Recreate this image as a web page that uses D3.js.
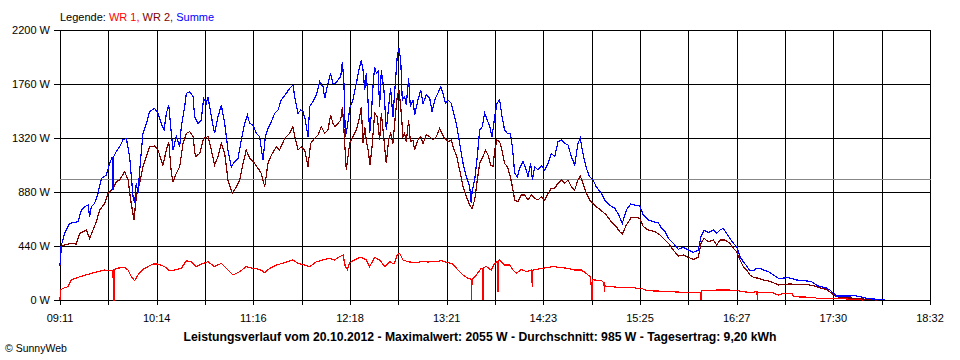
<!DOCTYPE html>
<html><head><meta charset="utf-8">
<script src="https://cdn.jsdelivr.net/npm/d3@7/dist/d3.min.js"></script>
<style>body{margin:0;background:#fff}svg{display:block}text{font-family:"Liberation Sans",Arial,sans-serif}</style>
</head><body>
<script>
// time in minutes of day (09:11 = 551), power in W
const xTickLabels = ["09:11","10:14","11:16","12:18","13:21","14:23","15:25","16:27","17:30","18:32"];
const yTicks = [0,440,880,1320,1760,2200];
const average = 985;
const legendItems = ["WR 1", "WR 2", "Summe"];
const titleText = "Leistungsverlauf vom 20.10.2012 - Maximalwert: 2055 W - Durchschnitt: 985 W - Tagesertrag: 9,20 kWh";

const summe = [[551.0,285],[551.6,435],[552.9,489],[554.0,543],[557.2,625],[562.6,638],[564.8,733],[566.9,760],[569.1,774],[570.1,679],[571.2,760],[573.3,788],[575.5,869],[577.7,991],[580.9,1018],[583.0,1113],[584.8,1168],[585.2,896],[585.6,1168],[587.3,1209],[589.5,1249],[591.6,1304],[593.8,1317],[595.9,1168],[598.1,842],[599.1,788],[600.2,951],[601.3,869],[602.4,1059],[604.5,1358],[606.7,1439],[608.8,1535],[612.0,1562],[614.2,1521],[616.3,1439],[618.1,1385],[619.6,1521],[621.1,1589],[622.8,1358],[623.9,1222],[626.0,1331],[628.2,1249],[629.2,1412],[631.4,1575],[632.5,1684],[634.6,1697],[636.8,1657],[637.8,1494],[640.0,1439],[642.1,1467],[643.6,1643],[645.4,1602],[646.4,1657],[648.6,1494],[650.7,1358],[652.9,1494],[655.0,1589],[657.2,1439],[659.3,1222],[661.5,1086],[663.6,1127],[665.8,1154],[667.9,1304],[670.1,1439],[671.8,1507],[673.3,1439],[675.4,1426],[677.6,1358],[679.7,1331],[681.9,1141],[683.4,1331],[685.1,1399],[687.3,1453],[689.4,1521],[691.6,1548],[693.7,1630],[696.9,1684],[699.1,1725],[701.2,1752],[702.7,1630],[704.5,1521],[706.2,1548],[707.7,1535],[709.2,1467],[710.9,1331],[712.0,1575],[714.1,1616],[716.3,1670],[718.4,1779],[720.6,1738],[721.7,1643],[723.8,1766],[725.5,1847],[727.0,1766],[728.5,1766],[730.3,1793],[732.0,1820],[733.1,1942],[734.1,1766],[735.0,1331],[736.3,1412],[737.8,1560],[739.9,1630],[742.1,1766],[744.2,1901],[745.3,1955],[746.4,1874],[747.5,1711],[748.5,1847],[749.6,1630],[750.7,1358],[751.8,1521],[752.8,1738],[753.9,1901],[755.0,1847],[756.1,1860],[757.1,1575],[758.2,1874],[759.9,1711],[761.4,1385],[762.9,1575],[764.2,1725],[765.7,1494],[767.2,1766],[768.5,1996],[769.6,2051],[770.7,1955],[771.7,1630],[773.2,1657],[774.3,1589],[775.8,1806],[776.9,1575],[778.6,1630],[779.7,1507],[781.8,1630],[783.6,1711],[785.1,1602],[787.2,1670],[789.4,1643],[790.9,1535],[793.0,1643],[794.7,1684],[796.5,1738],[798.0,1684],[799.5,1602],[801.2,1630],[803.3,1602],[805.1,1507],[806.6,1439],[808.7,1276],[810.9,1113],[813.0,1005],[815.2,923],[816.2,788],[816.7,883],[818.4,978],[820.1,1168],[821.6,1385],[823.3,1412],[824.8,1521],[826.5,1467],[828.1,1412],[829.6,1331],[831.3,1494],[832.8,1602],[834.5,1630],[836.0,1494],[837.7,1385],[839.5,1358],[841.4,1358],[842.7,1249],[844.2,1032],[845.9,1005],[847.4,1073],[849.6,1127],[851.3,1073],[852.8,1005],[854.5,1113],[855.6,978],[857.1,1086],[859.2,1059],[861.4,1092],[863.5,1059],[865.7,1113],[867.8,1195],[870.0,1168],[872.1,1290],[874.3,1304],[876.4,1276],[878.6,1263],[880.7,1168],[882.9,1100],[885.0,1276],[886.5,1317],[888.2,1195],[890.4,1073],[892.5,1005],[894.7,978],[896.8,923],[900.1,869],[902.2,815],[905.4,774],[908.7,747],[910.8,706],[913.6,625],[916.2,733],[919.0,782],[921.6,774],[924.8,766],[927.1,693],[930.4,652],[933.6,638],[936.8,630],[939.0,584],[941.1,557],[943.3,502],[946.5,462],[949.7,413],[952.9,429],[956.2,407],[959.4,388],[962.6,407],[964.3,516],[966.3,570],[969.1,548],[972.3,570],[974.4,543],[976.6,570],[978.7,584],[980.9,543],[983.0,502],[985.2,462],[987.3,435],[989.5,353],[991.6,312],[993.8,277],[995.9,239],[998.1,239],[1000.2,258],[1002.4,258],[1004.5,244],[1007.8,231],[1011.0,204],[1014.2,177],[1016.4,177],[1019.6,182],[1022.8,177],[1026.0,163],[1029.2,158],[1032.5,155],[1035.7,149],[1038.9,122],[1041.1,109],[1044.3,103],[1047.5,81],[1049.7,54],[1051.8,33],[1060.4,33],[1063.6,35],[1066.9,27],[1071.2,14],[1075.5,8],[1079.8,5],[1083.0,3]];

const wr2 = [[551.0,277],[551.9,440],[554.0,448],[558.3,462],[561.5,456],[563.7,543],[565.8,557],[568.0,570],[570.1,502],[572.3,570],[574.4,638],[576.6,733],[579.8,788],[581.9,869],[585.2,910],[587.3,964],[589.5,978],[592.7,1046],[594.9,978],[596.6,815],[598.7,652],[600.2,842],[602.4,951],[604.5,1086],[606.7,1168],[608.8,1249],[612.0,1255],[614.2,1222],[616.3,1141],[617.4,1100],[619.6,1222],[621.1,1290],[622.8,1032],[623.9,964],[626.0,1032],[628.2,1086],[630.3,1276],[632.5,1358],[634.6,1372],[636.8,1331],[638.3,1168],[641.1,1195],[643.6,1317],[646.4,1331],[648.6,1222],[650.7,1100],[652.9,1168],[655.0,1276],[657.2,1195],[659.3,978],[662.1,869],[664.7,923],[666.9,978],[669.0,1113],[671.1,1222],[673.3,1154],[676.5,1113],[678.7,1073],[680.8,1032],[683.0,923],[685.1,1113],[687.3,1181],[690.5,1249],[692.6,1222],[695.9,1317],[699.1,1358],[701.2,1412],[702.7,1317],[704.5,1222],[706.6,1249],[708.8,1222],[710.9,1086],[712.6,1276],[715.2,1317],[717.4,1344],[719.5,1412],[721.7,1358],[723.8,1385],[725.5,1507],[727.0,1439],[728.5,1412],[730.3,1439],[732.0,1467],[733.1,1575],[734.1,1385],[735.6,1059],[737.8,1276],[739.9,1331],[742.1,1385],[744.2,1494],[745.3,1575],[746.4,1276],[747.5,1412],[748.5,1304],[750.0,1195],[750.9,1100],[752.2,1249],[753.9,1521],[755.6,1494],[757.1,1304],[758.2,1521],[759.9,1304],[761.4,1113],[762.9,1304],[764.2,1358],[765.7,1276],[767.2,1494],[768.5,1657],[769.6,1711],[770.7,1575],[772.2,1331],[773.2,1358],[774.3,1290],[775.8,1467],[776.9,1290],[778.6,1304],[779.7,1222],[781.8,1304],[783.6,1331],[785.1,1276],[787.2,1344],[789.4,1331],[791.5,1304],[793.7,1331],[795.8,1399],[797.3,1358],[799.0,1317],[801.2,1290],[803.3,1304],[805.1,1222],[806.6,1181],[808.7,1059],[810.9,923],[813.0,842],[815.2,774],[816.7,747],[818.4,815],[820.1,978],[821.6,1113],[823.8,1168],[825.3,1222],[827.0,1181],[828.7,1100],[830.2,1086],[831.3,1222],[832.8,1304],[834.5,1290],[836.0,1222],[837.7,1113],[839.5,1086],[841.4,1005],[842.7,923],[844.2,815],[846.3,801],[848.5,856],[850.6,856],[852.8,815],[854.9,856],[857.1,829],[859.2,815],[861.4,842],[863.5,815],[865.7,869],[867.8,910],[870.0,910],[872.1,951],[874.3,978],[876.4,951],[878.6,978],[880.7,923],[882.9,896],[885.0,978],[886.5,1010],[888.2,951],[890.4,869],[892.5,815],[894.7,788],[896.8,760],[900.1,728],[903.3,693],[906.5,638],[909.7,598],[911.9,557],[913.6,538],[916.2,611],[919.4,674],[922.6,674],[924.8,666],[927.1,598],[930.4,570],[934.7,557],[937.9,530],[940.0,502],[943.3,462],[946.5,407],[949.7,358],[952.9,367],[956.2,348],[959.4,331],[962.6,348],[964.3,462],[966.3,502],[969.1,475],[972.3,489],[974.4,448],[976.6,489],[979.8,489],[983.0,462],[985.2,421],[987.3,394],[989.5,326],[991.6,272],[993.8,244],[995.9,204],[998.1,185],[1001.3,177],[1004.5,163],[1007.8,155],[1011.0,141],[1014.2,122],[1017.4,128],[1021.7,130],[1026.0,128],[1030.3,128],[1034.6,122],[1038.9,109],[1042.1,95],[1045.4,87],[1048.6,54],[1051.8,27],[1056.1,19],[1060.4,16],[1064.7,14],[1069.0,8],[1073.3,3],[1077.6,0]];

const wr1 = [[551.0,0],[551.3,81],[552.9,95],[556.2,109],[558.3,163],[562.6,185],[566.9,201],[571.2,217],[575.5,231],[579.8,244],[581.9,239],[585.2,244],[585.4,0],[586.2,0],[586.4,250],[587.3,258],[592.7,266],[594.9,244],[597.0,190],[599.1,158],[601.3,204],[604.5,250],[607.7,272],[611.0,293],[614.2,293],[618.5,272],[621.7,239],[624.9,244],[629.2,258],[632.5,320],[635.7,312],[638.9,272],[642.1,293],[646.4,312],[650.7,272],[655.0,299],[659.3,244],[662.6,204],[666.9,231],[671.1,272],[675.4,258],[679.7,250],[683.0,223],[686.2,258],[690.5,285],[695.9,304],[701.2,326],[704.5,299],[708.8,285],[712.0,272],[716.3,312],[720.6,326],[724.9,340],[728.1,326],[731.3,353],[733.5,367],[735.0,272],[736.3,250],[737.8,304],[738.9,312],[741.0,326],[744.2,348],[746.4,340],[748.5,326],[750.7,272],[753.9,348],[757.1,326],[760.4,272],[763.6,312],[766.4,293],[768.5,367],[770.0,380],[772.2,326],[775.4,312],[779.7,304],[784.0,312],[788.3,310],[792.6,312],[796.9,320],[801.2,304],[804.4,293],[807.6,244],[810.9,204],[814.1,177],[816.2,168],[816.4,0],[816.7,170],[819.5,204],[822.7,258],[823.6,260],[823.8,0],[824.0,265],[825.9,272],[829.1,244],[831.3,299],[833.0,312],[833.4,68],[833.8,320],[834.5,326],[837.7,285],[841.0,285],[843.1,244],[845.3,217],[848.5,250],[851.7,231],[854.9,244],[855.6,110],[855.9,244],[858.1,250],[862.5,258],[865.7,266],[868.9,272],[873.2,266],[878.6,258],[882.9,244],[887.2,244],[890.4,217],[893.2,185],[894.0,0],[894.3,170],[895.8,163],[900.1,158],[901.8,140],[902.0,68],[902.4,114],[906.5,109],[913.0,100],[919.4,103],[924.8,92],[926.0,95],[929.3,76],[935.7,73],[942.2,71],[948.6,65],[955.1,62],[964.0,62],[964.3,0],[964.6,76],[966.3,76],[974.4,81],[983.0,81],[989.5,73],[995.9,60],[1000.4,68],[1000.7,0],[1001.0,62],[1004.5,62],[1009.9,62],[1014.2,41],[1017.4,54],[1023.2,54],[1023.9,27],[1030.3,24],[1037.8,22],[1038.9,14],[1047.5,14],[1051.8,11],[1060.4,8],[1064.7,3],[1069.0,0]];

const seriesColors = ["#ff0000", "#800000", "#0000ff"];

const svg = d3.select("body").append("svg").attr("width", 960).attr("height", 360);
const x = d3.scaleLinear().domain([551, 1112]).range([60, 930]);
const y = d3.scaleLinear().domain([0, 2200]).range([300, 30]);

const px = v => Math.round(v) + 0.5;

// vertical grid (18 intervals, labels every second line)
const nGrid = (xTickLabels.length - 1) * 2;
const gridTimes = d3.range(nGrid + 1).map(i => 551 + i * (1112 - 551) / nGrid);
svg.append("g").selectAll("line").data(gridTimes).join("line")
  .attr("x1", d => px(x(d))).attr("x2", d => px(x(d)))
  .attr("y1", y(2200)).attr("y2", y(0) + 5)
  .attr("stroke", "#000").attr("stroke-width", 1).attr("shape-rendering", "crispEdges");

// horizontal grid
svg.append("g").selectAll("line").data(yTicks).join("line")
  .attr("x1", x(551) - 6).attr("x2", px(x(1112)) + 0.5)
  .attr("y1", d => px(y(d))).attr("y2", d => px(y(d)))
  .attr("stroke", "#000").attr("stroke-width", 1).attr("shape-rendering", "crispEdges");

// average line
svg.append("line")
  .attr("x1", x(551)).attr("x2", px(x(1112)))
  .attr("y1", px(y(average))).attr("y2", px(y(average)))
  .attr("stroke", "#888").attr("stroke-width", 1).attr("shape-rendering", "crispEdges");

// y labels
svg.append("g").selectAll("text").data(yTicks).join("text")
  .attr("x", 50).attr("y", d => y(d) + 4)
  .attr("text-anchor", "end").attr("font-size", 11).attr("fill", "#000")
  .text(d => d + " W");

// x labels
svg.append("g").selectAll("text").data(xTickLabels).join("text")
  .attr("x", (d, i) => x(gridTimes[i * 2])).attr("y", 322)
  .attr("text-anchor", "middle").attr("font-size", 11).attr("fill", "#000")
  .text(d => d);

// series
const line = d3.line().x(d => x(d[0])).y(d => y(d[1]));
[wr1, wr2, summe].forEach((s, i) => {
  svg.append("path").datum(s).attr("d", line)
    .attr("fill", "none").attr("stroke", seriesColors[i]).attr("stroke-width", 1.2)
    .attr("shape-rendering", "crispEdges");
});

// legend
const leg = svg.append("text").attr("x", 60).attr("y", 21).attr("font-size", 11);
leg.append("tspan").attr("fill", "#000").text("Legende: ");
legendItems.forEach((t, i) => {
  leg.append("tspan").attr("fill", seriesColors[i]).text(t + (i < legendItems.length - 1 ? ", " : ""));
});

// title
svg.append("text").attr("x", 480).attr("y", 341).attr("text-anchor", "middle")
  .attr("font-size", 12).attr("font-weight", "bold").attr("fill", "#000")
  .attr("textLength", 593).attr("lengthAdjust", "spacingAndGlyphs")
  .text(titleText);

// copyright
svg.append("text").attr("x", 5).attr("y", 352).attr("font-size", 10.5).attr("fill", "#000")
  .text("© SunnyWeb");
</script>
</body></html>
